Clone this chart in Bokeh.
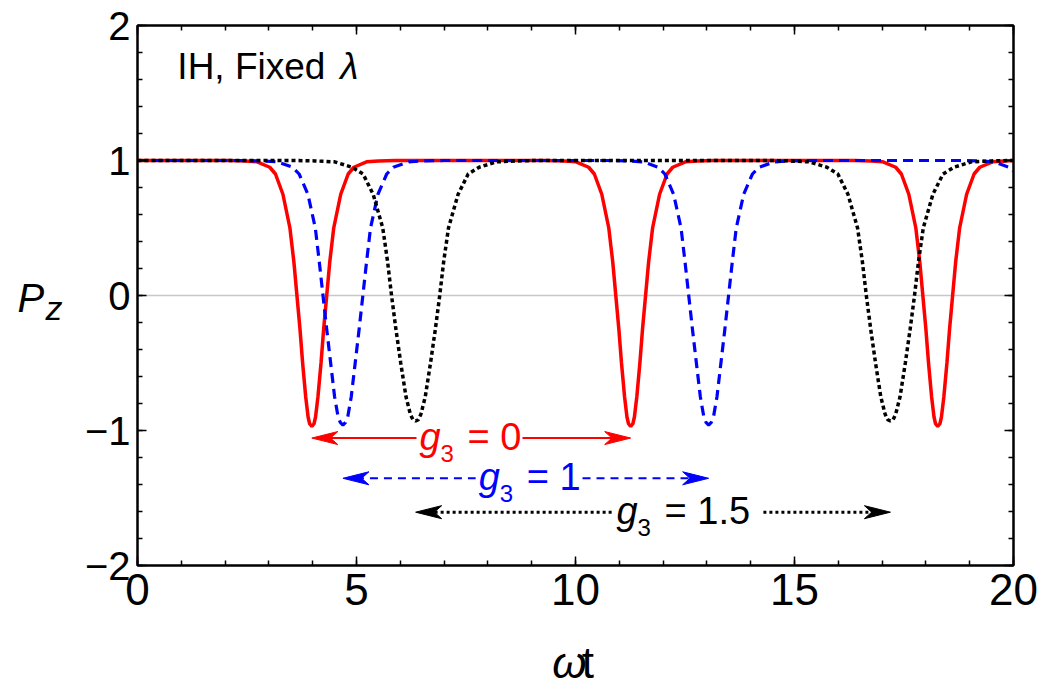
from bokeh.plotting import figure
from bokeh.models import Range1d, LinearAxis, SingleIntervalTicker, Span, Label
from bokeh.embed import file_html
from bokeh.resources import INLINE

# ---- P_z(omega t) samples for the three couplings ----
red_t = [0.0,
         2.08, 2.46, 2.73, 3.02, 3.15, 3.32, 3.48, 3.57, 3.64, 3.71, 3.77, 3.84, 3.895, 3.93, 3.98,
         4.03, 4.065, 4.12, 4.19, 4.25, 4.32, 4.39, 4.48, 4.64, 4.81, 4.94, 5.23, 5.50, 5.88,
         9.36, 9.74, 10.01, 10.30, 10.43, 10.60, 10.76, 10.85, 10.92, 10.99, 11.05, 11.12, 11.175, 11.21, 11.26,
         11.31, 11.345, 11.40, 11.47, 11.53, 11.60, 11.67, 11.76, 11.92, 12.09, 12.22, 12.51, 12.78, 13.16,
         16.37, 16.75, 17.02, 17.31, 17.44, 17.61, 17.77, 17.86, 17.93, 18.00, 18.06, 18.13, 18.185, 18.22, 18.27,
         18.32, 18.355, 18.41, 18.48, 18.54, 18.61, 18.68, 18.77, 18.93, 19.10, 19.23, 19.52, 19.79, 20.0]
red_pz = [1.0,
          1.0, 0.997, 0.99, 0.95, 0.9, 0.75, 0.5, 0.25, 0.0, -0.25, -0.5, -0.75, -0.9, -0.95, -0.97,
          -0.95, -0.9, -0.75, -0.5, -0.25, 0.0, 0.25, 0.5, 0.75, 0.9, 0.95, 0.99, 0.997, 1.0,
          1.0, 0.997, 0.99, 0.95, 0.9, 0.75, 0.5, 0.25, 0.0, -0.25, -0.5, -0.75, -0.9, -0.95, -0.97,
          -0.95, -0.9, -0.75, -0.5, -0.25, 0.0, 0.25, 0.5, 0.75, 0.9, 0.95, 0.99, 0.997, 1.0,
          1.0, 0.997, 0.99, 0.95, 0.9, 0.75, 0.5, 0.25, 0.0, -0.25, -0.5, -0.75, -0.9, -0.95, -0.97,
          -0.95, -0.9, -0.75, -0.5, -0.25, 0.0, 0.25, 0.5, 0.75, 0.9, 0.95, 0.99, 0.997, 1.0]

blue_t = [0.0,
          2.39, 2.84, 3.19, 3.54, 3.69, 3.89, 4.06, 4.15, 4.235, 4.32, 4.41, 4.50, 4.58, 4.63, 4.69,
          4.75, 4.80, 4.88, 4.97, 5.06, 5.145, 5.23, 5.32, 5.49, 5.69, 5.84, 6.19, 6.54, 6.99,
          10.74, 11.19, 11.54, 11.89, 12.04, 12.24, 12.41, 12.50, 12.585, 12.67, 12.76, 12.85, 12.93, 12.98, 13.04,
          13.10, 13.15, 13.23, 13.32, 13.41, 13.495, 13.58, 13.67, 13.84, 14.04, 14.19, 14.54, 14.89, 15.34,
          18.75, 19.2, 19.55, 19.9, 20.0]
blue_pz = [1.0,
           1.0, 0.997, 0.99, 0.95, 0.9, 0.75, 0.5, 0.25, 0.0, -0.25, -0.5, -0.75, -0.9, -0.94, -0.96,
           -0.94, -0.9, -0.75, -0.5, -0.25, 0.0, 0.25, 0.5, 0.75, 0.9, 0.95, 0.99, 0.997, 1.0,
           1.0, 0.997, 0.99, 0.95, 0.9, 0.75, 0.5, 0.25, 0.0, -0.25, -0.5, -0.75, -0.9, -0.94, -0.96,
           -0.94, -0.9, -0.75, -0.5, -0.25, 0.0, 0.25, 0.5, 0.75, 0.9, 0.95, 0.99, 0.997, 1.0,
           1.0, 0.997, 0.99, 0.95, 0.92]

black_t = [0.0,
           3.55, 4.05, 4.50, 4.90, 5.15, 5.38, 5.60, 5.71, 5.80, 5.90, 6.01, 6.13, 6.23, 6.29, 6.35,
           6.41, 6.47, 6.57, 6.69, 6.80, 6.90, 6.99, 7.10, 7.32, 7.55, 7.80, 8.20, 8.65, 9.15,
           14.39, 14.89, 15.34, 15.74, 15.99, 16.22, 16.44, 16.55, 16.64, 16.74, 16.85, 16.97, 17.07, 17.13, 17.19,
           17.25, 17.31, 17.41, 17.53, 17.64, 17.74, 17.83, 17.94, 18.16, 18.39, 18.64, 19.04, 19.49, 20.0]
black_pz = [1.0,
            1.0, 0.997, 0.99, 0.95, 0.9, 0.75, 0.5, 0.25, 0.0, -0.25, -0.5, -0.75, -0.88, -0.92, -0.93,
            -0.92, -0.88, -0.75, -0.5, -0.25, 0.0, 0.25, 0.5, 0.75, 0.9, 0.95, 0.99, 0.997, 1.0,
            1.0, 0.997, 0.99, 0.95, 0.9, 0.75, 0.5, 0.25, 0.0, -0.25, -0.5, -0.75, -0.88, -0.92, -0.93,
            -0.92, -0.88, -0.75, -0.5, -0.25, 0.0, 0.25, 0.5, 0.75, 0.9, 0.95, 0.99, 0.997, 1.0]

# ---- period arrows: from one dip to the next ----
g3_values = ["0", "1", "1.5"]
arrow_start = [3.98, 4.69, 6.35]
arrow_end = [11.26, 13.04, 17.19]
arrow_pz = [-1.056, -1.354, -1.605]
# the arrow shaft is interrupted where its "g3 = ..." label sits
gap_left = [6.37, 7.72, 10.87]
gap_right = [8.79, 10.16, 14.29]
series_colors = ["#ff0000", "#0000ff", "#000000"]
arrow_dash = ["solid", "8 6", "3 3"]
arrow_width = [2, 2, 3]

y_tick_labels = {-2: "\u22122", -1: "\u22121", 0: "0", 1: "1", 2: "2"}

FONT = "Liberation Sans"
W, H = 1042, 692
L, R, T, B = 137, 29, 25, 127

p = figure(width=W, height=H, output_backend="svg", toolbar_location=None,
           x_range=Range1d(0, 20), y_range=Range1d(-2, 2),
           x_axis_type=None, y_axis_type=None,
           min_border_left=L, min_border_right=R, min_border_top=T, min_border_bottom=B)
p.xgrid.visible = False
p.ygrid.visible = False
p.outline_line_color = "black"
p.outline_line_width = 2
p.background_fill_color = "white"
p.border_fill_color = "white"


def make_axis(kind, show_labels, font_size):
    tick = SingleIntervalTicker(interval=5, num_minor_ticks=5) if kind == "x" else \
        SingleIntervalTicker(interval=1, num_minor_ticks=5)
    ax = LinearAxis(ticker=tick)
    ax.axis_line_color = "black"
    ax.axis_line_width = 2
    ax.major_tick_in = 9
    ax.major_tick_out = 0
    ax.minor_tick_in = 5
    ax.minor_tick_out = 0
    ax.major_tick_line_width = 1.5
    ax.minor_tick_line_width = 1.5
    ax.major_tick_line_color = "black"
    ax.minor_tick_line_color = "black"
    ax.major_label_text_font = FONT
    if show_labels:
        ax.major_label_text_font_size = font_size
        ax.major_label_text_color = "black"
    else:
        ax.major_label_text_font_size = "0px"
        ax.major_label_text_color = None
        ax.major_label_standoff = 0
    return ax


xb = make_axis("x", True, "44px")
xb.major_label_standoff = 8
p.add_layout(xb, "below")
xt = make_axis("x", False, "0px")
p.add_layout(xt, "above")
yl = make_axis("y", True, "40px")
yl.major_label_standoff = 7
yl.major_label_overrides = y_tick_labels
p.add_layout(yl, "left")
yr = make_axis("y", False, "0px")
p.add_layout(yr, "right")

# zero line
p.add_layout(Span(location=0, dimension="width", line_color="#c8c8c8", line_width=1.5, level="underlay"))

# curves
p.line(red_t, red_pz, line_color=series_colors[0], line_width=3.5)
p.line(blue_t, blue_pz, line_color=series_colors[1], line_width=3.2, line_dash="10 6")
p.line(black_t, black_pz, line_color=series_colors[2], line_width=3.5, line_dash="4 3")

# arrows with notched heads at both ends
px_per_x = (W - L - R) / 20.0
px_per_y = (H - T - B) / 4.0
head_len = 26 / px_per_x
head_half = 6.5 / px_per_y
for i in range(3):
    x0, x1, yv = arrow_start[i], arrow_end[i], arrow_pz[i]
    p.segment(x0=[x0 + 0.5 * head_len, gap_right[i]], y0=[yv, yv],
              x1=[gap_left[i], x1 - 0.5 * head_len], y1=[yv, yv],
              line_color=series_colors[i], line_width=arrow_width[i], line_dash=arrow_dash[i])
    xs = [[x0, x0 + head_len, x0 + 0.72 * head_len, x0 + head_len],
          [x1, x1 - head_len, x1 - 0.72 * head_len, x1 - head_len]]
    ys = [[yv, yv + head_half, yv, yv - head_half]] * 2
    p.patches(xs, ys, fill_color=series_colors[i], line_color=series_colors[i], line_width=1)

    # "g_3 = value" label sitting on the arrow
    lx = gap_left[i] + 3 / px_per_x
    common = dict(text_font=FONT, text_color=series_colors[i], text_align="left")
    p.add_layout(Label(x=lx, y=yv, y_offset=-20, text="g", text_font_size="38px",
                       text_font_style="italic", **common))
    p.add_layout(Label(x=lx, y=yv, y_offset=-24, x_offset=21, text="3", text_font_size="24px",
                       **common))
    p.add_layout(Label(x=lx, y=yv, y_offset=-20, x_offset=48, text="= " + g3_values[i],
                       text_font_size="38px", **common))

# panel title
p.add_layout(Label(x=0.91, y=1.546, text="IH, Fixed", text_font=FONT, text_font_size="37px",
                   text_color="black"))
p.add_layout(Label(x=4.63, y=1.546, text="\u03bb", text_font=FONT, text_font_size="37px",
                   text_font_style="italic", text_color="black"))

# axis titles, kept in side panels (with room to spare) so the frame does not clip them
p.add_layout(Label(x=-2.74, y=-0.184, text="P", text_font=FONT, text_font_size="40px",
                   text_font_style="italic", text_color="black"), "left")
p.add_layout(Label(x=-2.10, y=-0.233, text="z", text_font=FONT, text_font_size="34px",
                   text_font_style="italic", text_color="black"), "left")
p.add_layout(Label(x=9.47, y=-2.90, text="\u03c9", text_font=FONT, text_font_size="44px",
                   text_font_style="italic", text_color="black"), "left")
p.add_layout(Label(x=10.14, y=-2.90, text="t", text_font=FONT, text_font_size="44px",
                   text_color="black"), "right")

open("out.html", "w").write(file_html(p, INLINE))
